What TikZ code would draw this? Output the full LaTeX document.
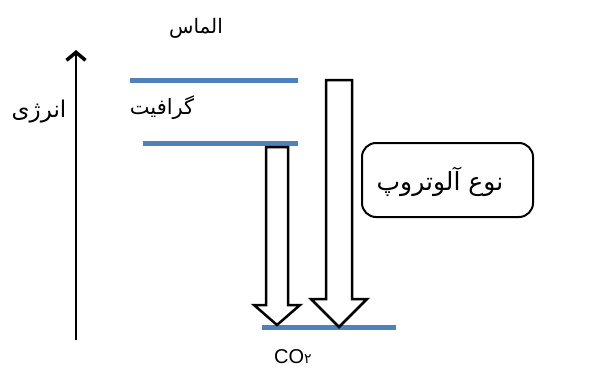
\documentclass[tikz,border=0pt]{standalone}
\usepackage{fontspec}
\setmainfont{Liberation Sans}
\newfontfamily\arabicfont[Script=Arabic]{DejaVu Sans}
\TeXXeTstate=1
\usetikzlibrary{arrows.meta}
\definecolor{lvl}{HTML}{4F81BD}
\tikzset{
  level/.style={draw=lvl, line width=5pt},
  hollow/.style={draw=black, line width=2.5pt, fill=white, line join=miter},
  fa/.style={font=\arabicfont\fontsize{#1}{#1}\selectfont, inner sep=0pt},
  fa/.default=20,
  axisline/.style={draw=black, line width=2.4pt, -{Straight Barb[length=8pt,width=19pt,line width=3.5pt]}},
  boxstyle/.style={draw=black, line width=2pt, rounded corners=14pt, minimum width=171pt, minimum height=74pt, fill=white},
}
\begin{document}
\begin{tikzpicture}[x=1pt,y=-1pt]
\useasboundingbox[fill=white] (0,0) rectangle (604,369);
% level coordinates
\coordinate (dL) at (130,80);  \coordinate (dR) at (298,80);
\coordinate (gL) at (143,143); \coordinate (gR) at (298,143);
\coordinate (cL) at (262,327); \coordinate (cR) at (396,327);
\coordinate (axB) at (76,340); \coordinate (axT) at (76,50);
% levels
\draw[level] (dL) -- (dR);
\draw[level] (gL) -- (gR);
\draw[level] (cL) -- (cR);
% energy axis
\draw[axisline] (axB) -- (axT);
% hollow arrows
\draw[hollow] (266,147) -- (288,147) -- (288,305) -- (300,305) -- (277,325) -- (254,305) -- (266,305) -- cycle;
\draw[hollow] (326,80) -- (352,80) -- (352,299) -- (367,299) -- (339,327) -- (311,299) -- (326,299) -- cycle;
% labels
\node[fa=20] (diamond) at (196,28) {\beginR الماس\endR};
\node[fa=21] (graphite) at (162,108) {\beginR گرافیت\endR};
\node[fa=23] (energy) at (39,112) {\beginR انرژی\endR};
\node[boxstyle] (box) at (447.5,180) {};
\node[fa=25] (boxtext) at (440,182) {\beginR نوع آلوتروپ\endR};
\node[inner sep=0pt] (co2) at (293,357) {\fontsize{20}{22}\selectfont CO{\arabicfont\fontsize{14}{14}\selectfont ۲}};
\end{tikzpicture}
\end{document}
